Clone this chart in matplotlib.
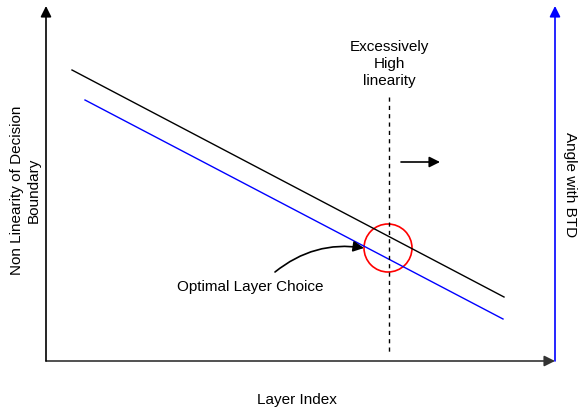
import matplotlib.pyplot as plt
from matplotlib.patches import Circle

plt.rcParams['font.family'] = ['Liberation Sans', 'DejaVu Sans']

# schematic coordinates (pixel-like space, y grows downward)
origin = (46, 362)
x_axis_end = (555, 362)
y_axis_end = (46, 7)
right_axis = (555, 362, 7)

black_x = [72, 504]
black_y = [71, 298]
blue_x = [85, 503]
blue_y = [101, 320]

cut_x = 389
cut_y = [98, 356]

circle_center = (388, 249)
circle_r = 24

fig = plt.figure(figsize=(5.79, 4.10), dpi=100)
ax = fig.add_axes([0, 0, 1, 1])
ax.set_xlim(0, 579)
ax.set_ylim(410, 0)
ax.axis('off')

arrow_kw = dict(arrowstyle='-|>', mutation_scale=16, lw=1.2, shrinkA=0, shrinkB=0)
ax.annotate('', xy=x_axis_end, xytext=origin, arrowprops=dict(color='#333333', **arrow_kw))
ax.annotate('', xy=y_axis_end, xytext=origin, arrowprops=dict(color='black', **arrow_kw))
ax.annotate('', xy=(right_axis[0], right_axis[2]), xytext=(right_axis[0], right_axis[1]),
			arrowprops=dict(color='#0000ff', **arrow_kw))

ax.plot(black_x, black_y, color='black', lw=1.0)
ax.plot(blue_x, blue_y, color='#0000ff', lw=1.0)
ax.plot([cut_x, cut_x], cut_y, color='black', lw=1.0, dashes=(3, 3))

ax.add_patch(Circle(circle_center, circle_r, fill=False, edgecolor='#ff0000', lw=1.2))

ax.annotate('', xy=(440, 163), xytext=(401, 163),
			arrowprops=dict(color='black', arrowstyle='-|>', mutation_scale=16, lw=1.2, shrinkA=0, shrinkB=0))
ax.annotate('', xy=(364, 249), xytext=(275, 273),
			arrowprops=dict(color='black', arrowstyle='-|>', mutation_scale=16, lw=1.2,
							shrinkA=0, shrinkB=0, connectionstyle='arc3,rad=-0.22'))

fs = 11
ax.text(389, 64, 'Excessively\nHigh\nlinearity', ha='center', va='center', fontsize=fs, linespacing=1.3)
ax.text(250, 287, 'Optimal Layer Choice', ha='center', va='center', fontsize=fs)
ax.text(297, 400, 'Layer Index', ha='center', va='center', fontsize=fs)
ax.text(25, 190, 'Non Linearity of Decision\nBoundary', ha='center', va='center',
		rotation=90, fontsize=fs, linespacing=1.25)
ax.text(570, 185, 'Angle with BTD', ha='center', va='center', rotation=-90, fontsize=fs)

fig.savefig('out.png', dpi=100)
